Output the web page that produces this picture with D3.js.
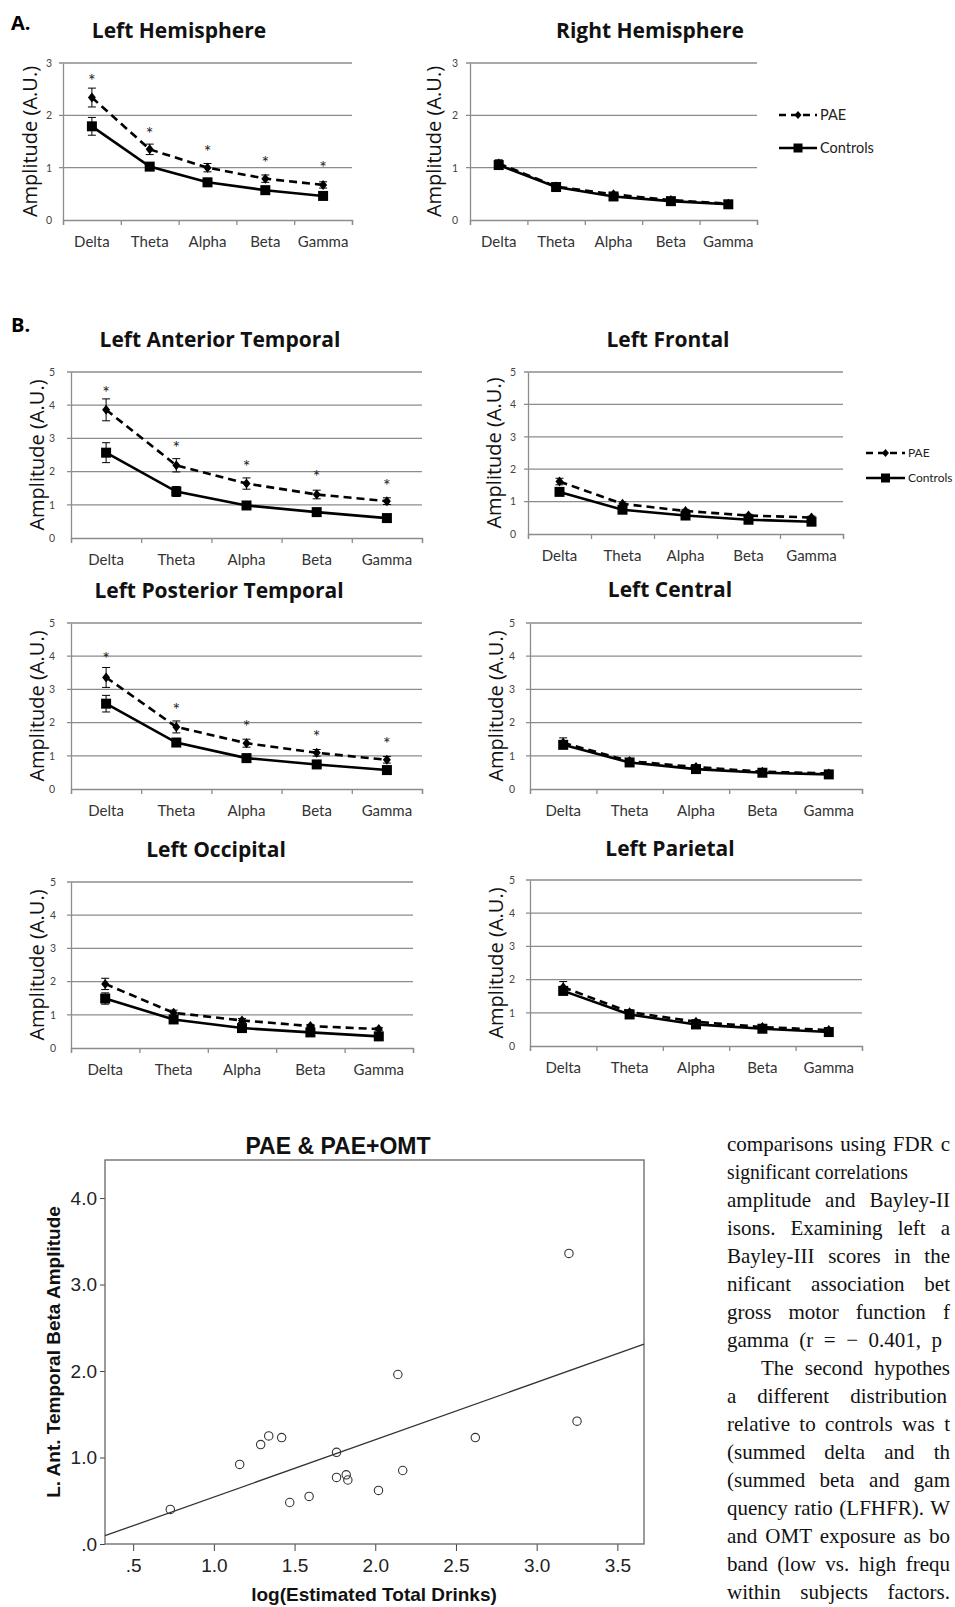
<!DOCTYPE html>
<html>
<head>
<meta charset="utf-8">
<script src="https://cdn.jsdelivr.net/npm/d3@7"></script>
<style>
  body { margin: 0; background: #fff; }
  svg { display: block; }
</style>
</head>
<body>
<script>
var bands = ['Delta', 'Theta', 'Alpha', 'Beta', 'Gamma'];

// A. hemispheres
var lhPAE    = [2.34, 1.35, 1.00, 0.79, 0.67];
var lhPAEErr = [0.18, 0.10, 0.08, 0.07, 0.06];
var lhCtl    = [1.79, 1.02, 0.72, 0.57, 0.46];
var lhCtlErr = [0.17, 0.05, 0.04, 0.03, 0.03];
var lhStar   = [2.71, 1.71, 1.35, 1.15, 1.05];

var rhPAE    = [1.08, 0.64, 0.49, 0.38, 0.31];
var rhPAEErr = [0.07, 0.04, 0.03, 0.03, 0.02];
var rhCtl    = [1.05, 0.63, 0.45, 0.36, 0.30];
var rhCtlErr = [0.06, 0.03, 0.03, 0.02, 0.02];

// B. left regions
var latPAE    = [3.86, 2.19, 1.64, 1.31, 1.11];
var latPAEErr = [0.33, 0.20, 0.17, 0.13, 0.10];
var latCtl    = [2.57, 1.40, 0.98, 0.78, 0.60];
var latCtlErr = [0.30, 0.15, 0.07, 0.05, 0.04];
var latStar   = [4.47, 2.79, 2.24, 1.94, 1.66];

var lfPAE    = [1.62, 0.93, 0.71, 0.57, 0.51];
var lfPAEErr = [0.10, 0.06, 0.05, 0.04, 0.04];
var lfCtl    = [1.30, 0.75, 0.57, 0.44, 0.38];
var lfCtlErr = [0.08, 0.05, 0.04, 0.03, 0.03];

var lptPAE    = [3.36, 1.87, 1.38, 1.09, 0.88];
var lptPAEErr = [0.30, 0.18, 0.12, 0.10, 0.10];
var lptCtl    = [2.57, 1.40, 0.93, 0.74, 0.57];
var lptCtlErr = [0.25, 0.06, 0.05, 0.04, 0.03];
var lptStar   = [4.00, 2.47, 1.95, 1.65, 1.45];

var lcPAE    = [1.39, 0.84, 0.66, 0.52, 0.47];
var lcPAEErr = [0.15, 0.06, 0.05, 0.04, 0.03];
var lcCtl    = [1.33, 0.80, 0.60, 0.49, 0.44];
var lcCtlErr = [0.10, 0.05, 0.04, 0.03, 0.03];

var loPAE    = [1.93, 1.06, 0.83, 0.66, 0.57];
var loPAEErr = [0.17, 0.08, 0.06, 0.05, 0.05];
var loCtl    = [1.49, 0.86, 0.60, 0.47, 0.35];
var loCtlErr = [0.17, 0.07, 0.05, 0.04, 0.03];

var lpPAE    = [1.77, 1.02, 0.73, 0.57, 0.48];
var lpPAEErr = [0.17, 0.07, 0.06, 0.05, 0.04];
var lpCtl    = [1.66, 0.95, 0.65, 0.52, 0.42];
var lpCtlErr = [0.12, 0.06, 0.04, 0.03, 0.03];

// scatter: log(estimated total drinks) vs L. ant. temporal beta amplitude
var drinksLog = [0.73, 1.16, 1.29, 1.34, 1.42, 1.47, 1.59, 1.76, 1.76, 1.82, 1.83, 2.02, 2.14, 2.17, 2.62, 3.20, 3.25];
var betaAmp   = [0.40, 0.92, 1.15, 1.25, 1.23, 0.48, 0.55, 1.06, 0.77, 0.80, 0.74, 0.62, 1.96, 0.85, 1.23, 3.36, 1.42];
var regIntercept = -0.12,
    regSlope = 0.663;
var scatterXTicks = [0.5, 1.0, 1.5, 2.0, 2.5, 3.0, 3.5];
var scatterYTicks = [0, 1, 2, 3, 4];

var bodyLines = [
  'comparisons using FDR c',
  'significant correlations',
  'amplitude and Bayley-II',
  'isons. Examining left a',
  'Bayley-III scores in the',
  'nificant association bet',
  'gross motor function f',
  'gamma (r = \u2212 0.401, p',
  'The second hypothes',
  'a different distribution',
  'relative to controls was t',
  '(summed delta and th',
  '(summed beta and gam',
  'quency ratio (LFHFR). W',
  'and OMT exposure as bo',
  'band (low vs. high frequ',
  'within subjects factors.'
];

var font = "Lato, 'Open Sans', sans-serif",
    titleFont = "'Open Sans', Lato, sans-serif",
    sansFont = "'Liberation Sans', Arial, sans-serif",
    serifFont = "'Liberation Serif', 'DejaVu Serif', serif",
    gridColor = '#8c8c8c';

var svg = d3.select('body').append('svg')
    .attr('width', 955)
    .attr('height', 1607);

function lineChart(o) {
    var g = svg.append('g');
    var x = d3.scaleBand().domain(bands).range([o.left, o.right]);
    var y = d3.scaleLinear().domain([0, o.ymax]).range([o.bottom, o.top]);
    var cx = function(d) { return x(d.b) + x.bandwidth() / 2; };

    // gridlines
    g.selectAll('line.grid').data(d3.range(1, o.ymax + 1)).enter().append('line')
        .attr('class', 'grid')
        .attr('x1', o.left - 4).attr('x2', o.right)
        .attr('y1', (d) => y(d)).attr('y2', (d) => y(d))
        .attr('stroke', gridColor).attr('stroke-width', 1.3);

    // y axis
    var gy = g.append('g')
        .attr('transform', 'translate(' + o.left + ',0)')
        .call(d3.axisLeft(y).tickValues(d3.range(0, o.ymax + 1)).tickSize(0).tickPadding(o.pad)
            .tickFormat(d3.format('d')));
    gy.select('.domain').attr('stroke', gridColor).attr('stroke-width', 1.3);
    gy.selectAll('text').attr('font-family', font).attr('font-size', 10.5).attr('fill', '#444');

    // x axis: ticks between categories
    var xb = d3.scaleLinear().domain([0, bands.length]).range([o.left, o.right]);
    var gx = g.append('g')
        .attr('transform', 'translate(0,' + o.bottom + ')')
        .call(d3.axisBottom(xb).tickValues(d3.range(0, bands.length + 1)).tickSize(5).tickSizeOuter(5).tickFormat(''));
    gx.selectAll('line, path').attr('stroke', gridColor).attr('stroke-width', 1.3);

    var gl = g.append('g')
        .attr('transform', 'translate(0,' + o.bottom + ')')
        .call(d3.axisBottom(x).tickSize(0).tickPadding(16));
    gl.select('.domain').remove();
    gl.selectAll('text').attr('font-family', font).attr('font-size', 15).attr('fill', '#333');

    // titles
    g.append('text')
        .attr('x', o.titleX).attr('y', o.titleY)
        .attr('text-anchor', 'middle')
        .attr('font-family', titleFont).attr('font-weight', 'bold').attr('font-size', 21).attr('fill', '#111')
        .text(o.title);

    g.append('text')
        .attr('transform', 'translate(' + o.ylabX + ',' + ((o.top + o.bottom) / 2) + ') rotate(-90)')
        .attr('text-anchor', 'middle').attr('dy', '0.35em')
        .attr('font-family', titleFont).attr('font-size', 20).attr('fill', '#111')
        .text('Amplitude (A.U.)');

    var pae = bands.map((b, i) => ({b: b, v: o.pae[i], e: o.paeErr[i], s: o.star ? o.star[i] : null}));
    var ctl = bands.map((b, i) => ({b: b, v: o.ctl[i], e: o.ctlErr[i]}));

    var line = d3.line().x(cx).y((d) => y(d.v));

    g.append('path').datum(ctl).attr('d', line)
        .attr('fill', 'none').attr('stroke', '#000').attr('stroke-width', 2.6);
    g.append('path').datum(pae).attr('d', line)
        .attr('fill', 'none').attr('stroke', '#000').attr('stroke-width', 2.6)
        .attr('stroke-dasharray', '8,5');

    // error bars
    [pae, ctl].forEach(function(series) {
        var eb = g.append('g').selectAll('g').data(series).enter().append('g');
        eb.append('line')
            .attr('x1', cx).attr('x2', cx)
            .attr('y1', (d) => y(d.v - d.e)).attr('y2', (d) => y(d.v + d.e))
            .attr('stroke', '#000').attr('stroke-width', 1);
        eb.append('line')
            .attr('x1', (d) => cx(d) - 4).attr('x2', (d) => cx(d) + 4)
            .attr('y1', (d) => y(d.v + d.e)).attr('y2', (d) => y(d.v + d.e))
            .attr('stroke', '#000').attr('stroke-width', 1);
        eb.append('line')
            .attr('x1', (d) => cx(d) - 4).attr('x2', (d) => cx(d) + 4)
            .attr('y1', (d) => y(d.v - d.e)).attr('y2', (d) => y(d.v - d.e))
            .attr('stroke', '#000').attr('stroke-width', 1);
    });

    // markers
    g.selectAll('rect.ctl').data(ctl).enter().append('rect')
        .attr('x', (d) => cx(d) - 5).attr('y', (d) => y(d.v) - 5)
        .attr('width', 10).attr('height', 10).attr('fill', '#000');
    g.selectAll('path.pae').data(pae).enter().append('path')
        .attr('d', 'M0,-5L4,0L0,5L-4,0Z')
        .attr('transform', (d) => 'translate(' + cx(d) + ',' + y(d.v) + ')')
        .attr('fill', '#000');

    if (o.star) {
        g.selectAll('text.star').data(pae).enter().append('text')
            .attr('x', cx).attr('y', (d) => y(d.s) + 9)
            .attr('text-anchor', 'middle')
            .attr('font-family', font).attr('font-size', 18).attr('fill', '#222')
            .text('*');
    }
}

function legend(lx, y1, y2, len, fs) {
    var g = svg.append('g');
    g.append('line').attr('x1', lx).attr('x2', lx + len).attr('y1', y1).attr('y2', y1)
        .attr('stroke', '#000').attr('stroke-width', 2.4).attr('stroke-dasharray', '7,5');
    g.append('path').attr('d', 'M0,-4L3.5,0L0,4L-3.5,0Z')
        .attr('transform', 'translate(' + (lx + len / 2) + ',' + y1 + ')');
    g.append('line').attr('x1', lx).attr('x2', lx + len).attr('y1', y2).attr('y2', y2)
        .attr('stroke', '#000').attr('stroke-width', 2.4);
    g.append('rect').attr('x', lx + len / 2 - 4.5).attr('y', y2 - 4.5).attr('width', 9).attr('height', 9);
    g.append('text').attr('x', lx + len + 3).attr('y', y1).attr('dy', '0.35em')
        .attr('font-family', font).attr('font-size', fs).attr('fill', '#222').text('PAE');
    g.append('text').attr('x', lx + len + 3).attr('y', y2).attr('dy', '0.35em')
        .attr('font-family', font).attr('font-size', fs).attr('fill', '#222').text('Controls');
}

// panel letters
svg.append('text').attr('x', 11).attr('y', 30)
    .attr('font-family', titleFont).attr('font-weight', 'bold').attr('font-size', 20).text('A.');
svg.append('text').attr('x', 11).attr('y', 332)
    .attr('font-family', titleFont).attr('font-weight', 'bold').attr('font-size', 20).text('B.');

lineChart({title: 'Left Hemisphere', titleX: 179, titleY: 38, left: 63, right: 352, top: 63, bottom: 220,
    ymax: 3, pad: 11, ylabX: 30, pae: lhPAE, paeErr: lhPAEErr, ctl: lhCtl, ctlErr: lhCtlErr, star: lhStar});
lineChart({title: 'Right Hemisphere', titleX: 650, titleY: 38, left: 470, right: 757, top: 63, bottom: 220,
    ymax: 3, pad: 12, ylabX: 434, pae: rhPAE, paeErr: rhPAEErr, ctl: rhCtl, ctlErr: rhCtlErr});
legend(779, 115, 148, 38, 14.5);

lineChart({title: 'Left Anterior Temporal', titleX: 220, titleY: 347, left: 71, right: 422, top: 372, bottom: 538,
    ymax: 5, pad: 16, ylabX: 37, pae: latPAE, paeErr: latPAEErr, ctl: latCtl, ctlErr: latCtlErr, star: latStar});
lineChart({title: 'Left Frontal', titleX: 668, titleY: 347, left: 528, right: 843, top: 372, bottom: 534,
    ymax: 5, pad: 12, ylabX: 494, pae: lfPAE, paeErr: lfPAEErr, ctl: lfCtl, ctlErr: lfCtlErr});
legend(866, 453, 478, 39, 12);

lineChart({title: 'Left Posterior Temporal', titleX: 219, titleY: 598, left: 71, right: 422, top: 623, bottom: 789,
    ymax: 5, pad: 16, ylabX: 37, pae: lptPAE, paeErr: lptPAEErr, ctl: lptCtl, ctlErr: lptCtlErr, star: lptStar});
lineChart({title: 'Left Central', titleX: 670, titleY: 597, left: 530, right: 862, top: 623, bottom: 789,
    ymax: 5, pad: 15, ylabX: 496, pae: lcPAE, paeErr: lcPAEErr, ctl: lcCtl, ctlErr: lcCtlErr});

lineChart({title: 'Left Occipital', titleX: 216, titleY: 857, left: 71, right: 413, top: 882, bottom: 1048,
    ymax: 5, pad: 15, ylabX: 37, pae: loPAE, paeErr: loPAEErr, ctl: loCtl, ctlErr: loCtlErr});
lineChart({title: 'Left Parietal', titleX: 670, titleY: 856, left: 530, right: 862, top: 880, bottom: 1046,
    ymax: 5, pad: 15, ylabX: 496, pae: lpPAE, paeErr: lpPAEErr, ctl: lpCtl, ctlErr: lpCtlErr});

// scatter plot
(function() {
    var g = svg.append('g');
    var sx = d3.scaleLinear().domain([0.3255, 3.665]).range([105, 644]);
    var sy = d3.scaleLinear().domain([0, 4.44]).range([1544, 1160]);

    g.append('text')
        .attr('x', 338).attr('y', 1154).attr('text-anchor', 'middle')
        .attr('font-family', sansFont).attr('font-weight', 'bold').attr('font-size', 23).attr('fill', '#111')
        .text('PAE & PAE+OMT');

    var ga = g.append('g').attr('transform', 'translate(105,0)')
        .call(d3.axisLeft(sy).tickValues(scatterYTicks).tickSize(5).tickPadding(3)
            .tickFormat((d) => d === 0 ? '.0' : d.toFixed(1)));
    var gb = g.append('g').attr('transform', 'translate(0,1544)')
        .call(d3.axisBottom(sx).tickValues(scatterXTicks).tickSize(7).tickPadding(8)
            .tickFormat((d) => d < 1 ? '.5' : d.toFixed(1)));
    [ga, gb].forEach(function(a) {
        a.select('.domain').remove();
        a.selectAll('line').attr('stroke', '#444');
        a.selectAll('text').attr('font-family', sansFont).attr('font-size', 19).attr('fill', '#222');
    });

    g.append('rect')
        .attr('x', sx.range()[0]).attr('y', sy.range()[1])
        .attr('width', sx.range()[1] - sx.range()[0]).attr('height', sy.range()[0] - sy.range()[1])
        .attr('fill', 'none').attr('stroke', '#666').attr('stroke-width', 1.3);

    var xd = sx.domain();
    var fit = xd.map((v) => ({x: v, y: regIntercept + regSlope * v}));
    g.append('path').datum(fit)
        .attr('d', d3.line().x((d) => sx(d.x)).y((d) => sy(d.y)))
        .attr('fill', 'none').attr('stroke', '#333').attr('stroke-width', 1.3);

    g.selectAll('circle').data(drinksLog).enter().append('circle')
        .attr('cx', (d) => sx(d)).attr('cy', (d, i) => sy(betaAmp[i]))
        .attr('r', 4.2)
        .attr('fill', 'none').attr('stroke', '#333').attr('stroke-width', 1.1);

    g.append('text')
        .attr('transform', 'translate(53,1352) rotate(-90)')
        .attr('text-anchor', 'middle').attr('dy', '0.35em')
        .attr('font-family', sansFont).attr('font-weight', 'bold').attr('font-size', 19).attr('fill', '#111')
        .text('L. Ant. Temporal Beta Amplitude');
    g.append('text')
        .attr('x', 374).attr('y', 1601).attr('text-anchor', 'middle')
        .attr('font-family', sansFont).attr('font-weight', 'bold').attr('font-size', 19).attr('fill', '#111')
        .text('log(Estimated Total Drinks)');
})();

// body text column, justified to the page edge
var shortLineEnd = {1: 908, 7: 942, 9: 947};
svg.append('g').selectAll('text').data(bodyLines).enter().append('text')
    .attr('x', (d, i) => i === 8 ? 761 : 727)
    .attr('y', (d, i) => 1151 + i * 28)
    .attr('font-family', serifFont).attr('font-size', 21).attr('fill', '#111')
    .text((d) => d)
    .each(function(d, i) {
        var start = i === 8 ? 761 : 727;
        var target = (shortLineEnd[i] || 950) - start;
        var w = this.getComputedTextLength();
        var spaces = (d.match(/ /g) || []).length;
        if (w > target) {
            d3.select(this).attr('textLength', target).attr('lengthAdjust', 'spacingAndGlyphs');
        } else if (spaces) {
            d3.select(this).attr('word-spacing', (target - w) / spaces);
        }
    });
</script>
</body>
</html>
